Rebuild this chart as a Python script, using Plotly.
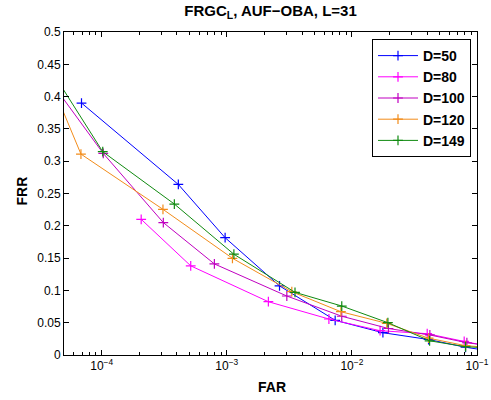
import plotly.graph_objects as go

# ---- data ----
series_names = ["D=50", "D=80", "D=100", "D=120", "D=149"]

far_d50 = [6.9e-5, 4.1e-4, 9.7e-4, 2.64e-3, 7.35e-3, 0.0177, 0.041, 0.081, 0.12]
frr_d50 = [0.39, 0.264, 0.1816, 0.107, 0.0537, 0.0345, 0.024, 0.012, 0.007]

far_d80 = [2.07e-4, 5.15e-4, 2.15e-3, 6.55e-3, 0.0168, 0.040, 0.079, 0.12]
frr_d80 = [0.21, 0.138, 0.0825, 0.0557, 0.0376, 0.033, 0.021, 0.014]

far_d100 = [4e-5, 1.03e-4, 3.11e-4, 7.96e-4, 3.02e-3, 8.3e-3, 0.0196, 0.042, 0.083, 0.12]
frr_d100 = [0.421, 0.312, 0.205, 0.141, 0.0913, 0.060, 0.041, 0.031, 0.019, 0.015]

far_d120 = [4e-5, 6.83e-5, 3.09e-4, 1.11e-3, 3.31e-3, 8.17e-3, 0.019, 0.041, 0.081, 0.12]
frr_d120 = [0.419, 0.311, 0.2255, 0.1497, 0.098, 0.067, 0.049, 0.026, 0.0144, 0.012]

far_d149 = [4e-5, 1.02e-4, 3.81e-4, 1.14e-3, 3.51e-3, 8.3e-3, 0.0194, 0.0418, 0.081, 0.12]
frr_d149 = [0.439, 0.3147, 0.2337, 0.156, 0.097, 0.0758, 0.050, 0.022, 0.0128, 0.011]

colors = ["#0000FF", "#FF00FF", "#C000C0", "#F28C1A", "#108A10"]

x_tick_vals = [1e-4, 1e-3, 1e-2, 1e-1]
x_tick_text = ["10<sup>\u22124</sup>", "10<sup>\u22123</sup>", "10<sup>\u22122</sup>", "10<sup>\u22121</sup>"]
y_tick_vals = [0, 0.05, 0.1, 0.15, 0.2, 0.25, 0.3, 0.35, 0.4, 0.45, 0.5]
y_tick_text = ["0", "0.05", "0.1", "0.15", "0.2", "0.25", "0.3", "0.35", "0.4", "0.45", "0.5"]

xs = [far_d50, far_d80, far_d100, far_d120, far_d149]
ys = [frr_d50, frr_d80, frr_d100, frr_d120, frr_d149]

FONT = "Liberation Sans, Arial, Helvetica, sans-serif"
W, H = 491, 400

fig = go.Figure()
for name, x, y, c in zip(series_names, xs, ys, colors):
    fig.add_trace(go.Scatter(
        x=x, y=y, name=name, mode="lines+markers",
        line=dict(color=c, width=1),
        marker=dict(symbol="cross-thin-open", size=7, line=dict(color=c, width=1.2)),
    ))

minor_vals = []
for e in [-5, -4, -3, -2]:
    for m in range(2, 10):
        minor_vals.append(m * 10 ** e)

fig.update_layout(
    width=W, height=H,
    margin=dict(l=64, r=14, t=32, b=45),
    paper_bgcolor="white", plot_bgcolor="white",
    font=dict(family=FONT, size=12, color="black"),
    title=dict(text="<b>FRGC<sub>L</sub>, AUF\u2212OBA, L=31</b>",
               x=270.5 / W, xanchor="center", y=1 - 11 / H, yanchor="middle",
               font=dict(size=15, family=FONT)),
    showlegend=True,
    legend=dict(x=(471 - 64) / 413, xanchor="right", y=(355 - 39) / 323, yanchor="top",
                bgcolor="white", bordercolor="black", borderwidth=1,
                font=dict(size=14, family=FONT, weight="bold"),
                tracegroupgap=0, itemwidth=40),
    annotations=[
        dict(text="<b>FAR</b>", xref="paper", yref="paper",
             x=(271.5 - 64) / 413, y=(355 - 387) / 323, xanchor="center", yanchor="middle",
             showarrow=False, font=dict(size=14)),
        dict(text="<b>FRR</b>", xref="paper", yref="paper", textangle=-90,
             x=(21.5 - 64) / 413, y=(355 - 191) / 323, xanchor="center", yanchor="middle",
             showarrow=False, font=dict(size=14)),
    ],
)

fig.update_xaxes(
    type="log", range=[-4.30103, -1], automargin=False,
    tickmode="array", tickvals=x_tick_vals, ticktext=x_tick_text,
    ticks="inside", ticklen=5, tickcolor="black",
    showline=True, linecolor="black", linewidth=1, mirror="allticks",
    showgrid=False, zeroline=False,
    tickfont=dict(size=12),
    minor=dict(tickmode="array", tickvals=minor_vals, ticks="inside", ticklen=3,
               tickcolor="black", showgrid=False),
)
fig.update_yaxes(
    range=[0, 0.5], automargin=False,
    tickmode="array", tickvals=y_tick_vals, ticktext=y_tick_text,
    ticks="inside", ticklen=5, tickcolor="black",
    showline=True, linecolor="black", linewidth=1, mirror="allticks",
    showgrid=False, zeroline=False,
    tickfont=dict(size=12),
)

fig.write_html("out.html", config={"displayModeBar": False},
               post_script="document.body.style.margin='0';")
